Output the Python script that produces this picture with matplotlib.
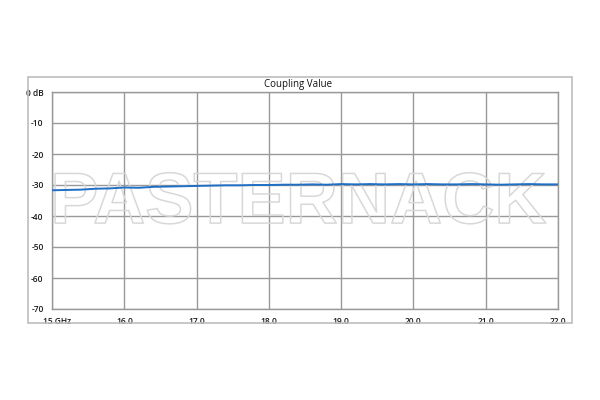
import matplotlib
matplotlib.use("Agg")
import matplotlib.pyplot as plt
import matplotlib.patches as patches
import matplotlib.patheffects as pe
import matplotlib.transforms as mtransforms

title = "Coupling Value"
freq_ghz = [15.0, 15.2, 15.4, 15.6, 15.8, 16.0, 16.2, 16.4, 16.6, 16.8,
            17.0, 17.2, 17.4, 17.6, 17.8, 18.0, 18.2, 18.4, 18.6, 18.8,
            19.0, 19.2, 19.4, 19.6, 19.8, 20.0, 20.2, 20.4, 20.6, 20.8,
            21.0, 21.2, 21.4, 21.6, 21.8, 22.0]
coupling_db = [-31.7, -31.6, -31.5, -31.2, -31.1, -30.8, -30.9, -30.6, -30.5, -30.4,
               -30.3, -30.2, -30.1, -30.1, -30.0, -30.0, -29.9, -29.9, -29.8, -29.9,
               -29.7, -29.8, -29.7, -29.8, -29.7, -29.8, -29.7, -29.8, -29.8, -29.7,
               -29.8, -29.9, -29.8, -29.7, -29.8, -29.8]
x_ticks = [15, 16, 17, 18, 19, 20, 21, 22]
x_labels = ["15 GHz", "16.0", "17.0", "18.0", "19.0", "20.0", "21.0", "22.0"]
y_ticks = [0, -10, -20, -30, -40, -50, -60, -70]
y_labels = ["0 dB", "-10", "-20", "-30", "-40", "-50", "-60", "-70"]
watermark = "PASTERNACK"

W, H = 600, 400
fig = plt.figure(figsize=(6, 4), dpi=100)
fig.patch.set_facecolor("white")

# outer chart box
fig.patches.append(patches.Rectangle((28 / W, 1 - 323 / H), (572 - 28) / W, (323 - 77) / H,
                                     transform=fig.transFigure, fill=False,
                                     edgecolor="#bdbdbd", linewidth=1.2))

ax = fig.add_axes([52 / W, 1 - 309 / H, (558 - 52) / W, (309 - 92) / H])
ax.set_xlim(15, 22)
ax.set_ylim(-70, 0)
ax.set_xticks(x_ticks)
ax.set_xticklabels(x_labels)
ax.set_yticks(y_ticks)
ax.set_yticklabels(y_labels)
ax.grid(True, color="#999999", linewidth=1.0)
ax.set_axisbelow(True)
for s in ax.spines.values():
    s.set_color("#999999")
    s.set_linewidth(1.0)
ax.tick_params(length=0, labelsize=6, colors="#1a1a1a", pad=6)
for lbl in ax.get_xticklabels() + ax.get_yticklabels():
    lbl.set_family("Open Sans")
    lbl.set_fontweight("semibold")

# shift first x label
first = ax.get_xticklabels()[0]
first.set_transform(first.get_transform() + mtransforms.ScaledTranslation(5 / 100, 0, fig.dpi_scale_trans))

ax.text(18.41, -42.3, watermark, ha="center", va="baseline",
        fontsize=52, fontweight="bold", family="Liberation Sans", color="none",
        path_effects=[pe.Stroke(linewidth=1.1, foreground="#d8d8d8")], zorder=1.5)

ax.plot(freq_ghz, coupling_db, color="#1f6fc5", linewidth=1.4, zorder=3)

fig.text(298 / W, 1 - 85 / H, title, ha="center", va="center", fontsize=7,
         family="Open Sans", color="#111111")

fig.savefig("out.png", dpi=100, facecolor="white")
